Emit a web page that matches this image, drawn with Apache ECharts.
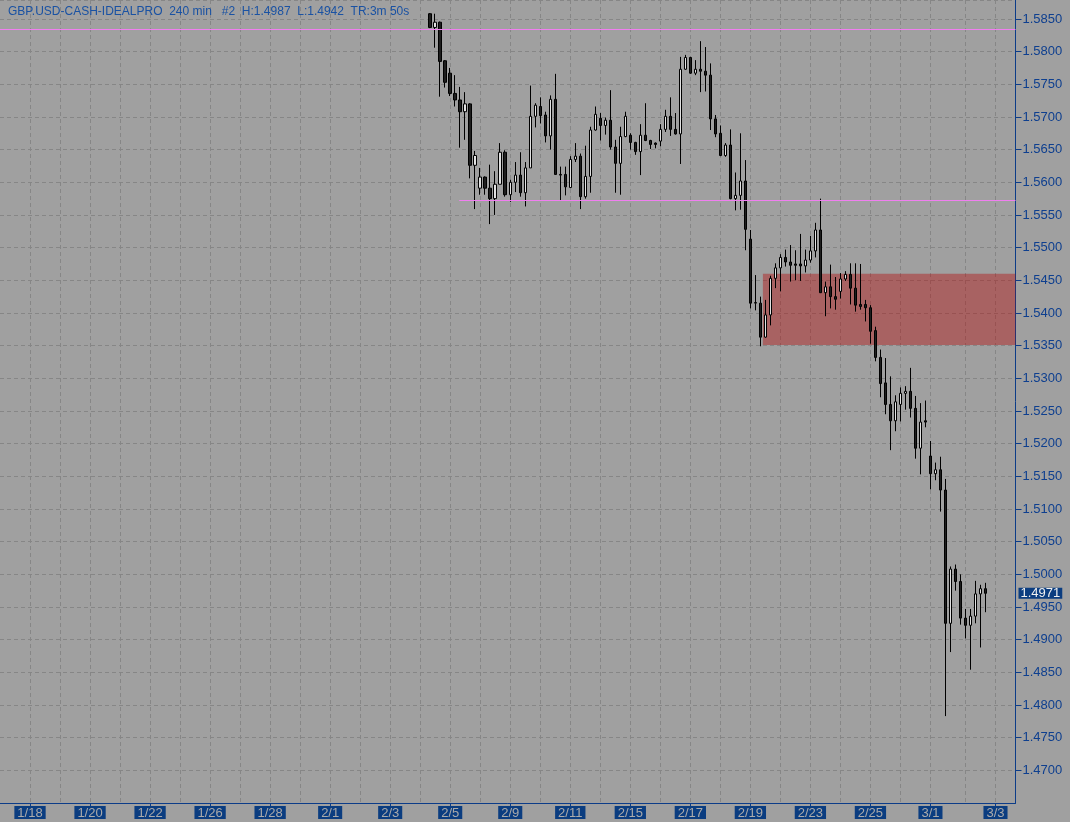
<!DOCTYPE html>
<html><head><meta charset="utf-8">
<script src="https://cdn.jsdelivr.net/npm/echarts@6/dist/echarts.min.js"></script>
<style>html,body{margin:0;padding:0;background:#a0a0a0;}#c{width:1070px;height:822px;}</style>
</head><body><div id="c"></div>
<script>
const titleText = 'GBP.USD-CASH-IDEALPRO  240 min   #2  H:1.4987  L:1.4942  TR:3m 50s';
const days = ['1/15','1/18','1/19','1/20','1/21','1/22','1/25','1/26','1/27','1/28','1/29','2/1','2/2','2/3','2/4','2/5','2/8','2/9','2/10','2/11','2/12','2/15','2/16','2/17','2/18','2/19','2/22','2/23','2/24','2/25','2/26','3/1','3/2','3/3'];
const barsPerDay = [6,6,6,6,6,6,6,6,6,6,6,6,6,6,6,6,6,6,6,6,6,6,6,6,6,6,6,6,6,6,6,7,6,5];
const tickDays = ['1/18','1/20','1/22','1/26','1/28','2/1','2/3','2/5','2/9','2/11','2/15','2/17','2/19','2/23','2/25','3/1','3/3'];
const firstBar = '2/4 #3';
const opens = [1.5858,1.5837,1.5845,1.5786,1.5767,1.5736,1.5726,1.5708,1.5720,1.5626,
1.5591,1.5608,1.5591,1.5575,1.5597,1.5646,1.5581,1.5600,1.5611,1.5584,
1.5622,1.5701,1.5716,1.5703,1.5671,1.5727,1.5612,1.5612,1.5592,1.5635,
1.5640,1.5578,1.5609,1.5680,1.5698,1.5687,1.5695,1.5654,1.5629,1.5670,
1.5672,1.5661,1.5647,1.5672,1.5664,1.5660,1.5663,1.5681,1.5701,1.5681,
1.5674,1.5773,1.5791,1.5767,1.5773,1.5770,1.5764,1.5697,1.5675,1.5641,
1.5657,1.5575,1.5580,1.5602,1.5513,1.5415,1.5415,1.5363,1.5397,1.5453,
1.5469,1.5485,1.5478,1.5475,1.5475,1.5472,1.5481,1.5495,1.5527,1.5431,
1.5440,1.5425,1.5433,1.5452,1.5459,1.5438,1.5413,1.5413,1.5408,1.5373,
1.5332,1.5293,1.5260,1.5235,1.5260,1.5277,1.5280,1.5254,1.5193,1.5235,
1.5181,1.5154,1.5160,1.5129,1.4925,1.5008,1.4989,1.4933,1.4922,1.4936,
1.4970,1.4978];
const highs = [1.5859,1.5858,1.5846,1.5787,1.5775,1.5764,1.5746,1.5738,1.5721,1.5648,
1.5622,1.5609,1.5627,1.5617,1.5660,1.5649,1.5604,1.5631,1.5646,1.5631,
1.5748,1.5721,1.5730,1.5708,1.5733,1.5766,1.5624,1.5624,1.5640,1.5660,
1.5644,1.5656,1.5685,1.5716,1.5706,1.5699,1.5741,1.5665,1.5685,1.5708,
1.5675,1.5662,1.5689,1.5721,1.5665,1.5661,1.5689,1.5711,1.5730,1.5706,
1.5792,1.5795,1.5792,1.5787,1.5816,1.5807,1.5782,1.5703,1.5687,1.5660,
1.5681,1.5615,1.5675,1.5634,1.5527,1.5458,1.5425,1.5420,1.5457,1.5476,
1.5490,1.5497,1.5504,1.5496,1.5521,1.5497,1.5518,1.5538,1.5575,1.5448,
1.5474,1.5455,1.5461,1.5464,1.5476,1.5476,1.5475,1.5420,1.5412,1.5379,
1.5344,1.5331,1.5303,1.5274,1.5286,1.5288,1.5316,1.5273,1.5262,1.5266,
1.5204,1.5171,1.5180,1.5146,1.5012,1.5015,1.5000,1.4947,1.4947,1.4990,
1.4984,1.4987];
const lows = [1.5836,1.5806,1.5731,1.5745,1.5732,1.5716,1.5653,1.5665,1.5606,1.5559,
1.5581,1.5581,1.5536,1.5550,1.5597,1.5578,1.5570,1.5585,1.5578,1.5563,
1.5622,1.5684,1.5690,1.5661,1.5650,1.5612,1.5572,1.5580,1.5591,1.5631,
1.5559,1.5575,1.5584,1.5679,1.5664,1.5673,1.5650,1.5584,1.5581,1.5669,
1.5650,1.5642,1.5611,1.5663,1.5651,1.5652,1.5655,1.5677,1.5671,1.5673,
1.5628,1.5772,1.5766,1.5764,1.5738,1.5739,1.5680,1.5669,1.5640,1.5639,
1.5574,1.5557,1.5558,1.5496,1.5407,1.5404,1.5349,1.5362,1.5381,1.5438,
1.5433,1.5471,1.5448,1.5450,1.5449,1.5462,1.5477,1.5485,1.5431,1.5395,
1.5407,1.5405,1.5422,1.5449,1.5413,1.5402,1.5405,1.5387,1.5353,1.5326,
1.5271,1.5245,1.5190,1.5219,1.5234,1.5252,1.5240,1.5177,1.5153,1.5225,
1.5130,1.5144,1.5096,1.4783,1.4881,1.4975,1.4923,1.4902,1.4854,1.4925,
1.4888,1.4942];
const closes = [1.5837,1.5845,1.5785,1.5753,1.5736,1.5726,1.5708,1.5720,1.5626,1.5641,
1.5608,1.5591,1.5575,1.5597,1.5646,1.5581,1.5600,1.5611,1.5584,1.5622,
1.5701,1.5718,1.5702,1.5671,1.5727,1.5612,1.5611,1.5593,1.5635,1.5640,
1.5578,1.5609,1.5680,1.5704,1.5687,1.5695,1.5654,1.5629,1.5670,1.5701,
1.5661,1.5647,1.5672,1.5664,1.5658,1.5658,1.5681,1.5701,1.5681,1.5674,
1.5773,1.5791,1.5767,1.5773,1.5770,1.5764,1.5697,1.5674,1.5641,1.5657,
1.5575,1.5580,1.5602,1.5528,1.5415,1.5416,1.5363,1.5397,1.5453,1.5469,
1.5485,1.5478,1.5473,1.5473,1.5472,1.5481,1.5495,1.5527,1.5431,1.5440,
1.5425,1.5421,1.5452,1.5459,1.5438,1.5412,1.5410,1.5408,1.5372,1.5332,
1.5292,1.5260,1.5235,1.5264,1.5277,1.5280,1.5254,1.5193,1.5233,1.5233,
1.5154,1.5160,1.5129,1.4925,1.5008,1.4989,1.4933,1.4922,1.4936,1.4970,
1.4978,1.4971];
const topLevel = 1.5834;
const supportLevel = 1.5572;
const supportStartBar = 91.8;
const zoneTop = 1.5460, zoneBottom = 1.5351, zoneStartBar = 152.5;
const lastPrice = 1.4971;

const categories = [];
const dayStart = {};
days.forEach((d, i) => {
  for (let k = 0; k < barsPerDay[i]; k++) {
    if (k === 0) dayStart[categories.length] = d;
    categories.push(d + ' #' + (k + 1));
  }
});
const start = categories.indexOf(firstBar);
const candleData = categories.map((c, i) => {
  const j = i - start;
  return (j >= 0 && j < opens.length) ? [opens[j], closes[j], lows[j], highs[j]] : '-';
});
const lastIdx = categories.length - 1;
const isDayStart = i => dayStart[i] !== undefined;
const isTick = i => isDayStart(i) && tickDays.indexOf(dayStart[i]) >= 0;

const blue = '#0c3c88';
const font = "'Liberation Sans', Arial, sans-serif";
const chart = echarts.init(document.getElementById('c'), null, {renderer: 'canvas'});
chart.setOption({
  animation: false,
  backgroundColor: '#a0a0a0',
  textStyle: {fontFamily: font},
  title: {text: titleText, left: 3, top: 1, textStyle: {fontSize: 12, fontWeight: 'normal', color: '#1a52a3', fontFamily: font}},
  grid: {left: 0, right: 54.5, top: 0, bottom: 19},
  xAxis: [{
    type: 'category', data: categories, boundaryGap: false,
    axisLine: {onZero: false, lineStyle: {color: blue, width: 1}},
    axisTick: {interval: (i) => isTick(i), length: 4, lineStyle: {color: blue}},
    axisLabel: {interval: (i) => isTick(i), formatter: v => v.split(' ')[0], color: '#aaaaaa', backgroundColor: '#0b3d80',
      padding: [1, 3, 0, 3], fontSize: 13, lineHeight: 12, margin: 3, fontFamily: font},
    splitLine: {show: true, interval: (i) => i > 0 && isDayStart(i), lineStyle: {color: '#868686', type: [4, 3], width: 1}}
  }, {
    type: 'value', min: 0, max: lastIdx, show: false
  }],
  yAxis: {
    type: 'value', position: 'right', min: 1.465, max: 1.5879, interval: 0.005,
    axisLine: {show: true, onZero: false, lineStyle: {color: blue, width: 1}},
    axisTick: {show: true, length: 6, lineStyle: {color: blue}},
    axisLabel: {formatter: v => v.toFixed(4), color: '#0e3f8f', fontSize: 13, margin: 7, showMinLabel: false, showMaxLabel: false, fontFamily: font},
    splitLine: {show: true, lineStyle: {color: '#868686', type: [4, 3], width: 1}}
  },
  series: [{
    type: 'candlestick', data: candleData, barWidth: 3, z: 3,
    itemStyle: {color: '#e2e2e2', color0: '#1e1e1e', borderColor: '#000', borderColor0: '#000', borderWidth: 1}
  }, {
    type: 'line', xAxisIndex: 1, yAxisIndex: 0, data: [], z: 10, silent: true,
    markArea: {silent: true, itemStyle: {color: 'rgba(180,0,0,0.39)'},
      data: [[{xAxis: zoneStartBar, yAxis: zoneTop}, {xAxis: lastIdx, yAxis: zoneBottom}]]},
    markLine: {silent: true, symbol: ['none', 'none'], animation: false,
      lineStyle: {color: '#f07ff0', width: 1, type: 'solid'}, label: {show: false},
      data: [[{coord: [supportStartBar, supportLevel]}, {coord: [lastIdx, supportLevel]}],
             [{coord: [0, topLevel]}, {coord: [lastIdx, topLevel]}]]}
  }, {
    type: 'line', xAxisIndex: 1, yAxisIndex: 0, data: [], z: 12, silent: true, clip: false,
    markLine: {
      silent: true, symbol: ['none', 'none'], animation: false,
      lineStyle: {color: 'rgba(0,0,0,0)', width: 0},
      label: {show: true, position: 'end', formatter: p => Number(p.value).toFixed(4), backgroundColor: '#0b3d80', color: '#f0f0f0',
        fontSize: 13, lineHeight: 11, padding: [0, 2, 0, 2], distance: 3, fontFamily: font},
      data: [[{coord: [0, lastPrice], value: lastPrice}, {coord: [lastIdx, lastPrice]}]]
    }
  }]
});
</script></body></html>
